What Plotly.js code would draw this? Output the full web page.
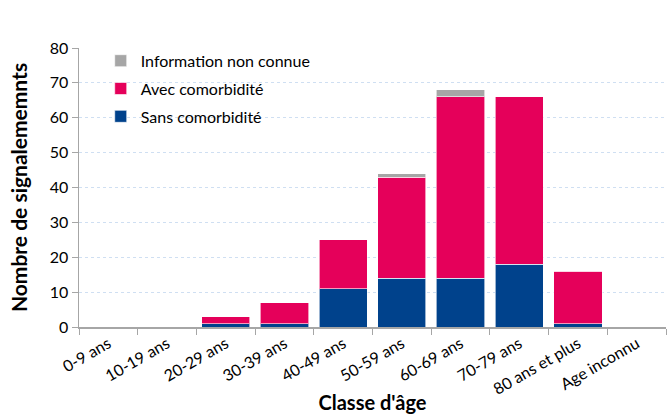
<!DOCTYPE html>
<html><head><meta charset="utf-8">
<script src="https://cdn.plot.ly/plotly-3.0.1.min.js"></script>
<style>html,body{margin:0;padding:0;background:#fff;}#chart{width:667px;height:414px;}</style>
</head><body><div id="chart"></div>
<script>
const categories = ["0-9 ans","10-19 ans","20-29 ans","30-39 ans","40-49 ans","50-59 ans","60-69 ans","70-79 ans","80 ans et plus","Age inconnu"];
const sansComorbidite = [0,0,1,1,11,14,14,18,1,0];
const avecComorbidite = [0,0,2,6,14,29,52,48,15,0];
const infoNonConnue = [0,0,0,0,0,1,2,0,0,0];
const yTicks = [0,10,20,30,40,50,60,70,80];

const font = "Lato, 'Noto Sans', sans-serif";
const line = {color:'rgba(255,255,255,0.6)', width:1};
const traces = [
  {type:'bar', name:'Sans comorbidité', legendgroup:'a', legendrank:3, x:categories, y:sansComorbidite, marker:{color:'#00428c', line:line}},
  {type:'bar', name:'Avec comorbidité', legendgroup:'b', legendrank:2, x:categories, y:avecComorbidite, marker:{color:'#e5005a', line:line}},
  {type:'bar', name:'Information non connue', legendgroup:'c', legendrank:1, x:categories, y:infoNonConnue, marker:{color:'#a6a6a6', line:line}}
];
const layout = {
  width:667, height:414,
  margin:{l:79, r:1, t:48, b:87},
  barmode:'stack', bargap:0.18,
  paper_bgcolor:'#fff', plot_bgcolor:'#fff',
  font:{family:font, size:16, color:'#000'},
  showlegend:true,
  legend:{x:0.037, y:1.015, xanchor:'left', yanchor:'top', traceorder:'grouped', bgcolor:'rgba(0,0,0,0)', font:{size:16, family:font}, itemwidth:30, tracegroupgap:4},
  xaxis:{type:'category', tickangle:-30, showline:true, linecolor:'#a6a6a6', linewidth:1.5, ticks:'outside', tickson:'boundaries', ticklen:6, tickcolor:'#a6a6a6', showgrid:false, tickfont:{size:16, family:font},
    title:{text:"Classe d'âge", font:{size:20, family:font, weight:'bold'}, standoff:10}, automargin:false},
  yaxis:{range:[0,80], tickvals:yTicks, showline:true, linecolor:'#a6a6a6', linewidth:1.5, ticks:'outside', ticklen:6, tickcolor:'#a6a6a6', gridcolor:'#cfdff2', griddash:'dot', gridwidth:1, zeroline:false, tickfont:{size:16, family:font},
    title:{text:'Nombre de signalememnts', font:{size:21, family:font, weight:'bold'}, standoff:16}, automargin:false}
};
Plotly.newPlot('chart', traces, layout, {displayModeBar:false, staticPlot:true});
</script></body></html>
